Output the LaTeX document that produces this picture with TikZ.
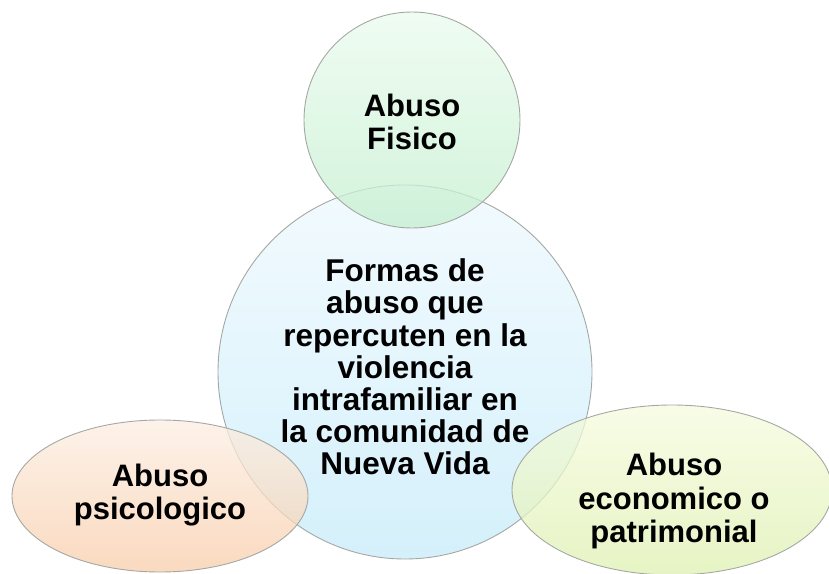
\documentclass[tikz,border=0pt]{standalone}
\usepackage{fontspec}
\setmainfont{Liberation Sans}
\definecolor{outl}{HTML}{A4A8A4}
\definecolor{gtop}{HTML}{EAFBEE}
\definecolor{gbot}{HTML}{C4EFCF}
\definecolor{btop}{HTML}{EEF9FE}
\definecolor{bbot}{HTML}{C6EBFA}
\definecolor{otop}{HTML}{FCEEE2}
\definecolor{obot}{HTML}{F8CDAA}
\definecolor{ytop}{HTML}{F6FBDE}
\definecolor{ybot}{HTML}{DEF0B0}
\tikzset{
  blob/.style={draw=outl, line width=0.9pt, fill opacity=0.75},
  lbl/.style={align=center, font=\bfseries\fontsize{31}{33.5}\selectfont, text=black},
  clbl/.style={align=center, font=\bfseries\fontsize{31.5}{32.2}\selectfont, text=black}
}
\begin{document}
\begin{tikzpicture}[x=1pt,y=1pt]
\useasboundingbox (0,0) rectangle (829,573);
% centre circle
\shade[blob, top color=btop, bottom color=bbot] (405,201) circle (187);
% top circle
\shade[blob, top color=gtop, bottom color=gbot] (412,453) circle (108);
% left ellipse
\shade[blob, top color=otop, bottom color=obot] (160,77) ellipse (148 and 76);
% right ellipse
\shade[blob, top color=ytop, bottom color=ybot] (672,83) ellipse (160 and 85);
\node[clbl] (c) at (405,206) {Formas de\\abuso que\\repercuten en la\\violencia\\intrafamiliar en\\la comunidad de\\Nueva Vida};
\node[lbl] (t) at (412,451) {Abuso\\Fisico};
\node[lbl] (l) at (160,78) {Abuso\\psicologico};
\node[lbl] (r) at (674,72) {Abuso\\economico o\\patrimonial};
\end{tikzpicture}
\end{document}
